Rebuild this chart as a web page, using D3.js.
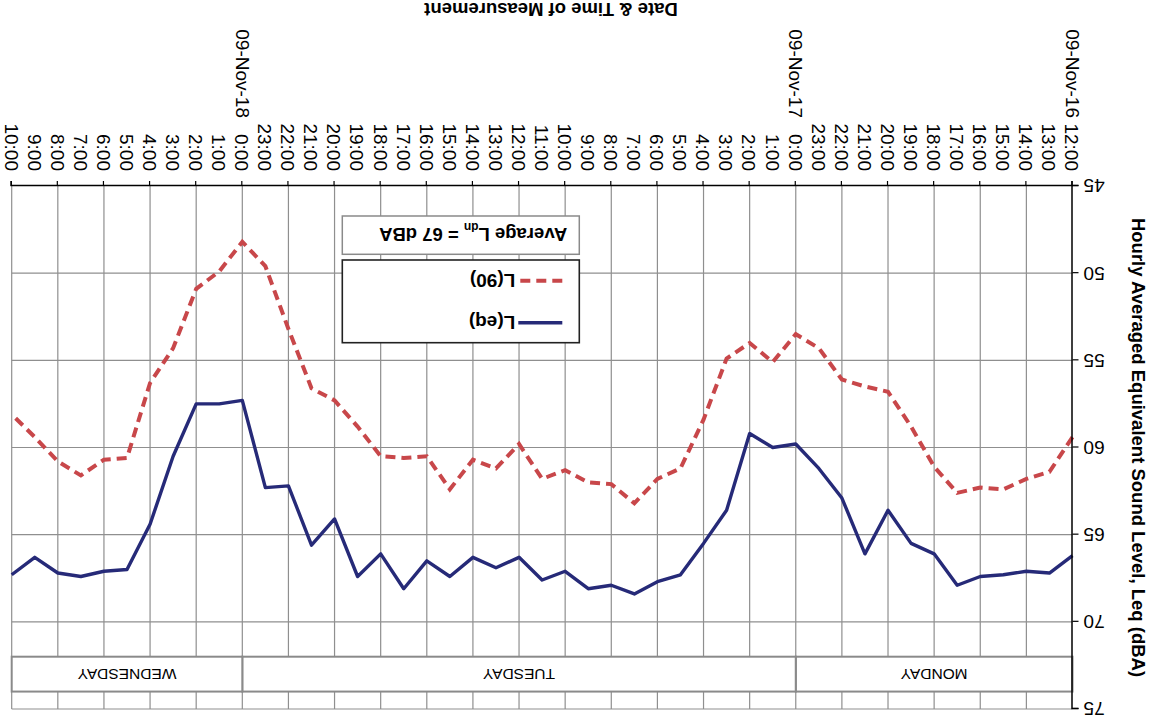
<!DOCTYPE html>
<html>
<head>
<meta charset="utf-8">
<script src="https://cdn.jsdelivr.net/npm/d3@7"></script>
<style>
  body { margin: 0; background: #fff; }
  svg { display: block; }
  text { font-family: "Liberation Sans", Arial, sans-serif; fill: #000; }
</style>
</head>
<body>
<script>
// Hourly measurement slots, 12:00 Monday through 10:00 Wednesday
const hourLabels = [
  "12:00","13:00","14:00","15:00","16:00","17:00","18:00","19:00","20:00","21:00","22:00","23:00",
  "0:00","1:00","2:00","3:00","4:00","5:00","6:00","7:00","8:00","9:00","10:00","11:00",
  "12:00","13:00","14:00","15:00","16:00","17:00","18:00","19:00","20:00","21:00","22:00","23:00",
  "0:00","1:00","2:00","3:00","4:00","5:00","6:00","7:00","8:00","9:00","10:00"
];
const dateTicks = ["09-Nov-16", "09-Nov-17", "09-Nov-18"];
const dateTickHours = [0, 12, 36];

// Hourly equivalent level L(eq), dBA
const leq = [
  66.2, 67.2, 67.1, 67.3, 67.4, 67.9, 66.1, 65.5, 63.6, 66.1, 62.9, 61.2,
  59.8, 60.0, 59.2, 63.6, 65.5, 67.3, 67.7, 68.4, 67.9, 68.1, 67.1, 67.6,
  66.3, 66.9, 66.3, 67.4, 66.5, 68.1, 66.1, 67.4, 64.1, 65.6, 62.2, 62.3,
  57.3, 57.5, 57.5, 60.5, 64.4, 67.0, 67.1, 67.4, 67.2, 66.3, 67.3
];
// Hourly background level L(90), dBA
const l90 = [
  59.4, 61.4, 61.8, 62.4, 62.3, 62.6, 61.1, 58.8, 56.8, 56.5, 56.1, 54.3,
  53.5, 55.1, 54.0, 54.9, 58.4, 61.2, 61.8, 63.2, 62.1, 62.0, 61.3, 61.8,
  59.8, 61.2, 60.7, 62.4, 60.5, 60.6, 60.5, 58.8, 57.3, 56.6, 53.2, 49.6,
  48.2, 49.9, 50.9, 54.3, 56.3, 60.6, 60.7, 61.6, 60.8, 59.4, 58.1
];

const dayNames = ["MONDAY", "TUESDAY", "WEDNESDAY"];
const dayStartHours = [0, 12, 36];
const dayEndHours = [12, 36, 46];
const dayBand = [72, 74];

const yTicks = [45, 50, 55, 60, 65, 70, 75];
const ldnValue = 67;

const W = 1159, H = 719;
const nHours = hourLabels.length;

const x = d3.scaleLinear().domain([0, nHours - 1]).range([86.5, 1147.3]);
const y = d3.scaleLinear().domain([45, 75]).range([533, 10]);

const svg = d3.select("body").append("svg")
  .attr("width", W).attr("height", H);

// The whole chart is presented turned half a turn
const g = svg.append("g").attr("transform", `rotate(180 ${W / 2} ${H / 2})`);

const gridColor = "#8f8f8f";
const evenHours = d3.range(0, nHours, 2);

// Gridlines
g.append("g").selectAll("line").data(yTicks.slice(1)).join("line")
  .attr("x1", x(0)).attr("x2", x(nHours - 1))
  .attr("y1", d => y(d)).attr("y2", d => y(d))
  .attr("stroke", gridColor).attr("stroke-width", 1.2);
g.append("g").selectAll("line").data(evenHours.slice(1)).join("line")
  .attr("x1", d => x(d)).attr("x2", d => x(d))
  .attr("y1", y(45)).attr("y2", y(75))
  .attr("stroke", gridColor).attr("stroke-width", 1.2);

// Day-of-week band
const days = dayNames.map((name, i) => ({ name, s: dayStartHours[i], e: dayEndHours[i] }));
const dayG = g.append("g");
dayG.selectAll("rect").data(days).join("rect")
  .attr("x", d => x(d.s)).attr("width", d => x(d.e) - x(d.s))
  .attr("y", y(dayBand[1])).attr("height", y(dayBand[0]) - y(dayBand[1]))
  .attr("fill", "#fff").attr("stroke", "#8a8a8a").attr("stroke-width", 2);
dayG.selectAll("text").data(days).join("text")
  .attr("x", d => (x(d.s) + x(d.e)) / 2)
  .attr("y", (y(dayBand[0]) + y(dayBand[1])) / 2)
  .attr("dy", "0.36em")
  .attr("text-anchor", "middle")
  .style("font-size", "15.5px")
  .text(d => d.name);

// Series lines
const line = d3.line().x((d, i) => x(i)).y(d => y(d));
g.append("path").datum(l90)
  .attr("d", line).attr("fill", "none")
  .attr("stroke", "#c8474a").attr("stroke-width", 4)
  .attr("stroke-dasharray", "10,6");
g.append("path").datum(leq)
  .attr("d", line).attr("fill", "none")
  .attr("stroke", "#262a78").attr("stroke-width", 3.4)
  .attr("stroke-linejoin", "round");

// Y axis
const yAxis = g.append("g")
  .attr("transform", `translate(${x(0)},0)`)
  .call(d3.axisLeft(y).tickValues(yTicks).tickSize(6).tickPadding(5));
yAxis.select(".domain").attr("stroke", "#000").attr("stroke-width", 1.5);
yAxis.selectAll(".tick line").attr("stroke", "#000").attr("stroke-width", 1.2);
yAxis.selectAll(".tick text").style("font-size", "19px");

// X axis: tick marks every two hours, labels every hour
const xTicks = g.append("g")
  .attr("transform", `translate(0,${y(45)})`)
  .call(d3.axisBottom(x).tickValues(evenHours).tickSize(5).tickFormat(""));
xTicks.select(".domain").attr("stroke", "#000").attr("stroke-width", 1.5);
xTicks.selectAll(".tick line").attr("stroke", "#000").attr("stroke-width", 1.2);

const xLabels = g.append("g")
  .attr("transform", `translate(0,${y(45)})`)
  .call(d3.axisBottom(x).tickValues(d3.range(nHours)).tickSize(0).tickFormat(i => hourLabels[i]));
xLabels.select(".domain").remove();
xLabels.selectAll(".tick text")
  .attr("transform", "rotate(-90)")
  .attr("x", -15).attr("y", 0).attr("dy", "0.35em")
  .attr("text-anchor", "end")
  .style("font-size", "19px");

// Date labels, one column further out from the axis
g.append("g")
  .attr("transform", `translate(0,${y(45)})`)
  .selectAll("text").data(dateTickHours).join("text")
  .attr("transform", d => `translate(${x(d)},0) rotate(-90)`)
  .attr("x", -68).attr("dy", "0.35em")
  .attr("text-anchor", "end")
  .style("font-size", "19px")
  .text((d, i) => dateTicks[i]);

// Axis titles
g.append("text")
  .attr("transform", `translate(27,${(y(45) + y(75)) / 2}) rotate(-90)`)
  .attr("text-anchor", "middle")
  .style("font-size", "18.5px").style("font-weight", "bold")
  .text("Hourly Averaged Equivalent Sound Level, Leq (dBA)");
g.append("text")
  .attr("x", 608).attr("y", 716.5)
  .attr("text-anchor", "middle")
  .style("font-size", "18.5px").style("font-weight", "bold")
  .text("Date & Time of Measurement");

// Legend
const legend = g.append("g").attr("transform", "translate(579.7,376.3)");
legend.append("rect")
  .attr("width", 237).attr("height", 82.7)
  .attr("fill", "#fff").attr("stroke", "#222").attr("stroke-width", 1.6);
const legendItems = [
  { label: "L(eq)", color: "#262a78", dash: null, w: 3.4, cy: 20 },
  { label: "L(90)", color: "#c8474a", dash: "10,6", w: 4, cy: 62 }
];
const li = legend.selectAll("g").data(legendItems).join("g")
  .attr("transform", d => `translate(0,${d.cy})`);
li.append("line")
  .attr("x1", 17).attr("x2", 61).attr("y1", 0).attr("y2", 0)
  .attr("stroke", d => d.color).attr("stroke-width", d => d.w)
  .attr("stroke-dasharray", d => d.dash);
li.append("text")
  .attr("x", 64).attr("dy", "0.36em")
  .style("font-size", "19px").style("font-weight", "bold")
  .text(d => d.label);

// Day-night average note
const note = g.append("g").attr("transform", "translate(579.7,464.7)");
note.append("rect")
  .attr("width", 237).attr("height", 38.3)
  .attr("fill", "#fff").attr("stroke", "#8a8a8a").attr("stroke-width", 1.5);
const noteText = note.append("text")
  .attr("x", 12).attr("y", 26)
  .style("font-size", "18.5px").style("font-weight", "bold");
noteText.append("tspan").text("Average L");
noteText.append("tspan").attr("dy", 5).style("font-size", "12px").text("dn");
noteText.append("tspan").attr("dy", -5).text(` = ${ldnValue} dBA`);
</script>
</body>
</html>
